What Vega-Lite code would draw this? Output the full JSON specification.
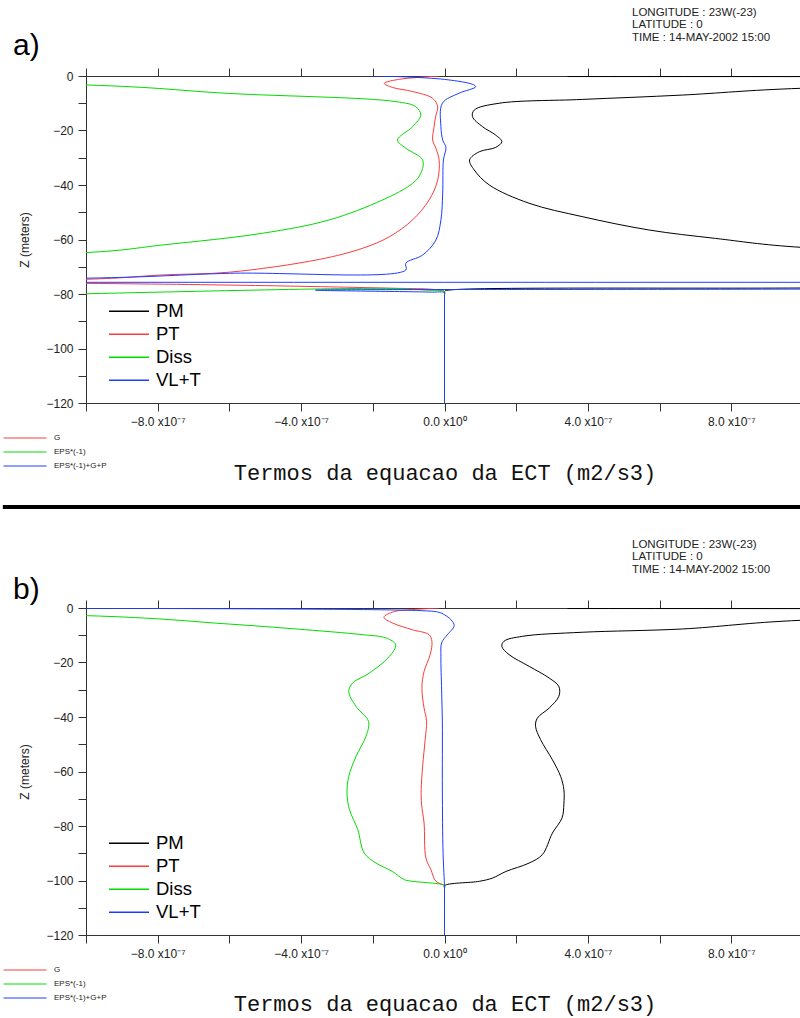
{
  "$schema": "https://vega.github.io/schema/vega-lite/v6.json",
  "padding": {"left": 0, "top": 6, "right": 0, "bottom": 6},
  "bounds": "flush",
  "spacing": 205,
  "config": {
    "view": {"stroke": null},
    "font": "Liberation Sans",
    "axis": {
      "domainColor": "#333333",
      "tickColor": "#333333",
      "labelColor": "#222222",
      "titleColor": "#222222",
      "labelFont": "Liberation Sans",
      "labelFontSize": 12,
      "tickSize": 8,
      "grid": false,
      "titleFontWeight": "normal",
      "labelOverlap": false,
      "labelBound": false,
      "labelFlush": false
    },
    "legend": {"padding": 0, "title": null}
  },
  "resolve": {
    "scale": {"color": "independent", "stroke": "independent"},
    "legend": {"color": "independent", "stroke": "independent"}
  },
  "datasets": {
    "a": [
      {"s": "PM", "x": 3.43e-7, "z": -0.2},
      {"s": "PM", "x": 3.0e-6, "z": -1.0},
      {"s": "PM", "x": 9.97e-7, "z": -4.5},
      {"s": "PM", "x": 6.63e-7, "z": -7.0},
      {"s": "PM", "x": 3.84e-7, "z": -8.6},
      {"s": "PM", "x": 1.52e-7, "z": -10.0},
      {"s": "PM", "x": 8.3e-8, "z": -12.5},
      {"s": "PM", "x": 7.8e-8, "z": -14.9},
      {"s": "PM", "x": 1.06e-7, "z": -18.6},
      {"s": "PM", "x": 1.43e-7, "z": -21.7},
      {"s": "PM", "x": 1.6e-7, "z": -24.1},
      {"s": "PM", "x": 1.43e-7, "z": -26.2},
      {"s": "PM", "x": 9.7e-8, "z": -27.8},
      {"s": "PM", "x": 7.0e-8, "z": -30.8},
      {"s": "PM", "x": 8.3e-8, "z": -34.5},
      {"s": "PM", "x": 1.25e-7, "z": -40.0},
      {"s": "PM", "x": 2.36e-7, "z": -46.7},
      {"s": "PM", "x": 3.84e-7, "z": -51.6},
      {"s": "PM", "x": 5.7e-7, "z": -56.5},
      {"s": "PM", "x": 7.56e-7, "z": -59.6},
      {"s": "PM", "x": 9.97e-7, "z": -62.9},
      {"s": "PM", "x": 3.0e-6, "z": -70.0},
      {"s": "PM", "x": 3.0e-6, "z": -77.0},
      {"s": "PM", "x": 9.97e-7, "z": -77.8},
      {"s": "PM", "x": 1.0e-8, "z": -78.6},
      {"s": "PM", "x": 0, "z": -79.0},
      {"s": "PM", "x": 0, "z": -80.0},
      {"s": "PM", "x": 0, "z": -90},
      {"s": "PM", "x": 0, "z": -100},
      {"s": "PM", "x": 0, "z": -110},
      {"s": "PM", "x": 0, "z": -120},

      {"s": "PT", "x": -1.5e-8, "z": 0},
      {"s": "PT", "x": -8.0e-8, "z": -0.6},
      {"s": "PT", "x": -1.26e-7, "z": -1.2},
      {"s": "PT", "x": -1.68e-7, "z": -2.7},
      {"s": "PT", "x": -1.45e-7, "z": -4.2},
      {"s": "PT", "x": -8.9e-8, "z": -5.7},
      {"s": "PT", "x": -3.3e-8, "z": -8.2},
      {"s": "PT", "x": -1.9e-8, "z": -11.3},
      {"s": "PT", "x": -2.5e-8, "z": -15.0},
      {"s": "PT", "x": -2.9e-8, "z": -18.6},
      {"s": "PT", "x": -3.3e-8, "z": -23.5},
      {"s": "PT", "x": -2.4e-8, "z": -26.5},
      {"s": "PT", "x": -1.5e-8, "z": -30.8},
      {"s": "PT", "x": -1.9e-8, "z": -38.2},
      {"s": "PT", "x": -4.3e-8, "z": -45.5},
      {"s": "PT", "x": -8.9e-8, "z": -52.8},
      {"s": "PT", "x": -1.54e-7, "z": -59.0},
      {"s": "PT", "x": -2.28e-7, "z": -63.2},
      {"s": "PT", "x": -3.49e-7, "z": -67.3},
      {"s": "PT", "x": -6.0e-7, "z": -72.0},
      {"s": "PT", "x": -7.86e-7, "z": -73.0},
      {"s": "PT", "x": -1.0e-6, "z": -74.6},
      {"s": "PT", "x": -6.0e-6, "z": -75.3},
      {"s": "PT", "x": -1.0e-6, "z": -76.1},
      {"s": "PT", "x": -1.36e-7, "z": -77.9},
      {"s": "PT", "x": -3.3e-8, "z": -78.3},
      {"s": "PT", "x": 0, "z": -79.0},
      {"s": "PT", "x": 0, "z": -80.0},
      {"s": "PT", "x": 0, "z": -90},
      {"s": "PT", "x": 0, "z": -100},
      {"s": "PT", "x": 0, "z": -110},
      {"s": "PT", "x": 0, "z": -120},

      {"s": "Diss", "x": -6.0e-6, "z": -2.5},
      {"s": "Diss", "x": -1.0e-6, "z": -3.3},
      {"s": "Diss", "x": -6.0e-7, "z": -6.4},
      {"s": "Diss", "x": -1.36e-7, "z": -9.4},
      {"s": "Diss", "x": -8.0e-8, "z": -11.3},
      {"s": "Diss", "x": -6.6e-8, "z": -14.3},
      {"s": "Diss", "x": -8.9e-8, "z": -18.6},
      {"s": "Diss", "x": -1.31e-7, "z": -23.5},
      {"s": "Diss", "x": -1.08e-7, "z": -26.5},
      {"s": "Diss", "x": -6.1e-8, "z": -30.8},
      {"s": "Diss", "x": -6.6e-8, "z": -35.7},
      {"s": "Diss", "x": -8.9e-8, "z": -39.4},
      {"s": "Diss", "x": -1.73e-7, "z": -45.5},
      {"s": "Diss", "x": -3.21e-7, "z": -52.8},
      {"s": "Diss", "x": -5.07e-7, "z": -57.7},
      {"s": "Diss", "x": -7.86e-7, "z": -62.0},
      {"s": "Diss", "x": -1.0e-6, "z": -64.8},
      {"s": "Diss", "x": -6.0e-6, "z": -70.0},
      {"s": "Diss", "x": -6.0e-6, "z": -77.5},
      {"s": "Diss", "x": -1.36e-7, "z": -78.0},
      {"s": "Diss", "x": -5.0e-8, "z": -78.6},
      {"s": "Diss", "x": 0, "z": -79.1},
      {"s": "Diss", "x": 0, "z": -80.0},
      {"s": "Diss", "x": 0, "z": -90},
      {"s": "Diss", "x": 0, "z": -100},
      {"s": "Diss", "x": 0, "z": -110},
      {"s": "Diss", "x": 0, "z": -120},

      {"s": "VL+T", "x": -6.0e-6, "z": -1.15},
      {"s": "VL+T", "x": 0, "z": -1.25},
      {"s": "VL+T", "x": 8.7e-8, "z": -3.9},
      {"s": "VL+T", "x": 4.1e-8, "z": -6.3},
      {"s": "VL+T", "x": -6e-9, "z": -10.0},
      {"s": "VL+T", "x": -1.0e-8, "z": -18.6},
      {"s": "VL+T", "x": -5e-9, "z": -23.5},
      {"s": "VL+T", "x": 4e-9, "z": -26.2},
      {"s": "VL+T", "x": -3e-9, "z": -30.8},
      {"s": "VL+T", "x": -5e-9, "z": -43.0},
      {"s": "VL+T", "x": -1.0e-8, "z": -52.8},
      {"s": "VL+T", "x": -2.4e-8, "z": -60.2},
      {"s": "VL+T", "x": -6.1e-8, "z": -65.7},
      {"s": "VL+T", "x": -1.08e-7, "z": -68.7},
      {"s": "VL+T", "x": -1.08e-7, "z": -71.2},
      {"s": "VL+T", "x": -6.0e-7, "z": -72.4},
      {"s": "VL+T", "x": -1.0e-6, "z": -74.2},
      {"s": "VL+T", "x": -6.0e-6, "z": -75.5},
      {"s": "VL+T", "x": 6.0e-6, "z": -76.1},
      {"s": "VL+T", "x": 1.0e-6, "z": -78.2},
      {"s": "VL+T", "x": -3.6e-7, "z": -78.6},
      {"s": "VL+T", "x": -4e-8, "z": -79.3},
      {"s": "VL+T", "x": 0, "z": -79.5},
      {"s": "VL+T", "x": 0, "z": -80.5},
      {"s": "VL+T", "x": 0, "z": -90},
      {"s": "VL+T", "x": 0, "z": -100},
      {"s": "VL+T", "x": 0, "z": -110},
      {"s": "VL+T", "x": 0, "z": -120}
    ],
    "b": [
      {"s": "PM", "x": 3.43e-7, "z": -0.2},
      {"s": "PM", "x": 3.0e-6, "z": -1.0},
      {"s": "PM", "x": 9.97e-7, "z": -4.5},
      {"s": "PM", "x": 6.63e-7, "z": -7.7},
      {"s": "PM", "x": 3.84e-7, "z": -8.9},
      {"s": "PM", "x": 2.17e-7, "z": -10.4},
      {"s": "PM", "x": 1.66e-7, "z": -12.2},
      {"s": "PM", "x": 1.6e-7, "z": -14.1},
      {"s": "PM", "x": 1.8e-7, "z": -17.1},
      {"s": "PM", "x": 2.36e-7, "z": -21.4},
      {"s": "PM", "x": 2.92e-7, "z": -25.7},
      {"s": "PM", "x": 3.19e-7, "z": -28.8},
      {"s": "PM", "x": 3.19e-7, "z": -32.4},
      {"s": "PM", "x": 2.92e-7, "z": -36.7},
      {"s": "PM", "x": 2.59e-7, "z": -40.4},
      {"s": "PM", "x": 2.54e-7, "z": -43.4},
      {"s": "PM", "x": 2.68e-7, "z": -48.3},
      {"s": "PM", "x": 3.01e-7, "z": -55.7},
      {"s": "PM", "x": 3.24e-7, "z": -61.8},
      {"s": "PM", "x": 3.33e-7, "z": -66.7},
      {"s": "PM", "x": 3.33e-7, "z": -72.0},
      {"s": "PM", "x": 3.28e-7, "z": -77.0},
      {"s": "PM", "x": 3.01e-7, "z": -82.6},
      {"s": "PM", "x": 2.73e-7, "z": -90.5},
      {"s": "PM", "x": 2.36e-7, "z": -93.6},
      {"s": "PM", "x": 1.71e-7, "z": -96.7},
      {"s": "PM", "x": 1.34e-7, "z": -99.1},
      {"s": "PM", "x": 9.7e-8, "z": -100.3},
      {"s": "PM", "x": 0, "z": -101.9},
      {"s": "PM", "x": 0, "z": -103},
      {"s": "PM", "x": 0, "z": -110},
      {"s": "PM", "x": 0, "z": -120},

      {"s": "PT", "x": -1.5e-8, "z": 0},
      {"s": "PT", "x": -9.0e-8, "z": -0.6},
      {"s": "PT", "x": -1.4e-7, "z": -1.3},
      {"s": "PT", "x": -1.69e-7, "z": -3.4},
      {"s": "PT", "x": -1.45e-7, "z": -5.5},
      {"s": "PT", "x": -8.9e-8, "z": -8.0},
      {"s": "PT", "x": -4.3e-8, "z": -9.8},
      {"s": "PT", "x": -3.5e-8, "z": -12.3},
      {"s": "PT", "x": -4.0e-8, "z": -17.1},
      {"s": "PT", "x": -5.7e-8, "z": -23.3},
      {"s": "PT", "x": -6.3e-8, "z": -29.4},
      {"s": "PT", "x": -5.7e-8, "z": -36.7},
      {"s": "PT", "x": -5.0e-8, "z": -41.6},
      {"s": "PT", "x": -5.4e-8, "z": -48.3},
      {"s": "PT", "x": -6.1e-8, "z": -58.1},
      {"s": "PT", "x": -6.5e-8, "z": -66.7},
      {"s": "PT", "x": -6.4e-8, "z": -72.0},
      {"s": "PT", "x": -5.7e-8, "z": -78.9},
      {"s": "PT", "x": -5.2e-8, "z": -91.7},
      {"s": "PT", "x": -3.8e-8, "z": -96.0},
      {"s": "PT", "x": -2.4e-8, "z": -100.3},
      {"s": "PT", "x": 0, "z": -101.9},
      {"s": "PT", "x": 0, "z": -103},
      {"s": "PT", "x": 0, "z": -110},
      {"s": "PT", "x": 0, "z": -120},

      {"s": "Diss", "x": -6.0e-6, "z": -2.0},
      {"s": "Diss", "x": -1.0e-6, "z": -2.8},
      {"s": "Diss", "x": -6.0e-7, "z": -5.9},
      {"s": "Diss", "x": -4.14e-7, "z": -7.7},
      {"s": "Diss", "x": -2.28e-7, "z": -9.8},
      {"s": "Diss", "x": -1.63e-7, "z": -11.0},
      {"s": "Diss", "x": -1.36e-7, "z": -13.5},
      {"s": "Diss", "x": -1.54e-7, "z": -17.8},
      {"s": "Diss", "x": -2.1e-7, "z": -23.9},
      {"s": "Diss", "x": -2.56e-7, "z": -27.5},
      {"s": "Diss", "x": -2.67e-7, "z": -30.6},
      {"s": "Diss", "x": -2.47e-7, "z": -36.1},
      {"s": "Diss", "x": -2.12e-7, "z": -41.6},
      {"s": "Diss", "x": -2.19e-7, "z": -47.1},
      {"s": "Diss", "x": -2.47e-7, "z": -54.5},
      {"s": "Diss", "x": -2.67e-7, "z": -61.8},
      {"s": "Diss", "x": -2.72e-7, "z": -67.9},
      {"s": "Diss", "x": -2.65e-7, "z": -74.0},
      {"s": "Diss", "x": -2.42e-7, "z": -81.3},
      {"s": "Diss", "x": -2.24e-7, "z": -89.9},
      {"s": "Diss", "x": -1.91e-7, "z": -93.6},
      {"s": "Diss", "x": -1.45e-7, "z": -96.7},
      {"s": "Diss", "x": -1.12e-7, "z": -99.7},
      {"s": "Diss", "x": -8.9e-8, "z": -100.3},
      {"s": "Diss", "x": 0, "z": -101.9},
      {"s": "Diss", "x": 0, "z": -103},
      {"s": "Diss", "x": 0, "z": -110},
      {"s": "Diss", "x": 0, "z": -120},

      {"s": "VL+T", "x": -6.0e-6, "z": -0.95},
      {"s": "VL+T", "x": -6.0e-8, "z": -1.0},
      {"s": "VL+T", "x": -1.5e-8, "z": -1.6},
      {"s": "VL+T", "x": 0, "z": -2.5},
      {"s": "VL+T", "x": 1.8e-8, "z": -4.3},
      {"s": "VL+T", "x": 2.7e-8, "z": -6.5},
      {"s": "VL+T", "x": 8e-9, "z": -9.8},
      {"s": "VL+T", "x": -8e-9, "z": -12.8},
      {"s": "VL+T", "x": -1.0e-8, "z": -17.8},
      {"s": "VL+T", "x": -8e-9, "z": -30.0},
      {"s": "VL+T", "x": -6e-9, "z": -42.2},
      {"s": "VL+T", "x": -6e-9, "z": -66.4},
      {"s": "VL+T", "x": -4e-9, "z": -90.0},
      {"s": "VL+T", "x": 0, "z": -101.9},
      {"s": "VL+T", "x": 0, "z": -103},
      {"s": "VL+T", "x": 0, "z": -110},
      {"s": "VL+T", "x": 0, "z": -120}
    ]
  },
  "vconcat": [
    {
      "width": 717,
      "height": 327,
      "title": {
        "text": ["LONGITUDE : 23W(-23)", "LATITUDE : 0", "TIME : 14-MAY-2002 15:00"],
        "anchor": "end", "align": "left", "frame": "group", "dx": -171,
        "offset": -23, "baseline": "bottom",
        "fontSize": 11.5, "fontWeight": "normal", "lineHeight": 12.5, "color": "#222222", "font": "Liberation Sans"
      },
      "resolve": {"axis": {"x": "independent", "y": "independent"}},
      "layer": [
        {
          "data": {"name": "a"},
          "mark": {"type": "line", "clip": true, "strokeWidth": 1, "interpolate": "catmull-rom"},
          "encoding": {
            "x": {
              "field": "x", "type": "quantitative",
              "scale": {"domain": [-1e-6, 1e-6], "nice": false, "zero": false},
              "axis": {
                "orient": "bottom",
                "values": [-1e-6, -8e-7, -6e-7, -4e-7, -2e-7, 0, 2e-7, 4e-7, 6e-7, 8e-7, 1e-6],
                "labelExpr": "(abs(round(datum.value*1e7)) % 4 == 0 && abs(round(datum.value*1e7)) < 10) ? (datum.value == 0 ? '0.0 x10⁰' : format(datum.value*1e7, '.1f') + ' x10⁻⁷') : ''",
                "labelPadding": 5,
                "title": "Termos da equacao da ECT (m2/s3)",
                "titleFont": "Liberation Mono", "titleFontSize": 22, "titlePadding": 35, "titleColor": "#111111"
              }
            },
            "y": {
              "field": "z", "type": "quantitative",
              "scale": {"domain": [-120, 0], "nice": false, "zero": false},
              "axis": {
                "orient": "left",
                "values": [-120, -110, -100, -90, -80, -70, -60, -50, -40, -30, -20, -10, 0],
                "labelExpr": "datum.value % 20 == 0 ? datum.label : ''",
                "labelPadding": 5,
                "title": "Z (meters)", "titleFontSize": 12, "titlePadding": 14
              }
            },
            "color": {
              "field": "s", "type": "nominal",
              "scale": {"domain": ["PM", "PT", "Diss", "VL+T"], "range": ["#000000", "#fa3c3c", "#00dc00", "#1e3cff"]},
              "legend": {
                "orient": "none", "legendX": 22, "legendY": 224,
                "symbolType": "stroke", "symbolSize": 1600, "symbolStrokeWidth": 1.5,
                "labelFontSize": 18.5, "labelFont": "Liberation Sans", "labelColor": "#000000",
                "labelOffset": 6, "clipHeight": 22.3, "rowPadding": 0, "labelBaseline": "middle"
              }
            },
            "order": {"field": "z", "sort": "descending"}
          }
        },
        {
          "data": {"values": [{"s": "G"}, {"s": "EPS*(-1)"}, {"s": "EPS*(-1)+G+P"}]},
          "mark": {"type": "line", "clip": true},
          "encoding": {
            "x": {
              "field": "x", "type": "quantitative",
              "axis": {
                "orient": "top",
                "values": [-1e-6, -8e-7, -6e-7, -4e-7, -2e-7, 0, 2e-7, 4e-7, 6e-7, 8e-7, 1e-6],
                "labels": false, "title": null
              }
            },
            "y": {"field": "z", "type": "quantitative", "axis": null},
            "stroke": {
              "field": "s", "type": "nominal",
              "scale": {"domain": ["G", "EPS*(-1)", "EPS*(-1)+G+P"], "range": ["#fa3c3c", "#00dc00", "#1e3cff"]},
              "legend": {
                "orient": "none", "legendX": -83, "legendY": 355,
                "symbolType": "stroke", "symbolSize": 1849, "symbolStrokeWidth": 1,
                "labelFontSize": 8, "labelFont": "Liberation Sans", "labelColor": "#222222",
                "labelOffset": 7, "clipHeight": 14, "rowPadding": 0, "labelBaseline": "middle"
              }
            }
          }
        },
        {
          "data": {"values": [{"label": "a)"}]},
          "mark": {"type": "text", "align": "left", "baseline": "middle", "fontSize": 30, "font": "Liberation Sans", "color": "#000000"},
          "encoding": {
            "x": {"datum": -1.2036e-6, "type": "quantitative", "axis": null},
            "y": {"datum": 11, "type": "quantitative", "axis": null},
            "text": {"field": "label"}
          }
        },
        {
          "data": {"values": [{"label": "separator"}]},
          "mark": {"type": "rule", "color": "#000000", "strokeWidth": 4},
          "encoding": {
            "x": {"datum": -1.232e-6, "type": "quantitative", "axis": null},
            "x2": {"datum": 1e-6},
            "y": {"datum": -158.2, "type": "quantitative", "axis": null}
          }
        }
      ]
    },
    {
      "width": 717,
      "height": 327,
      "title": {
        "text": ["LONGITUDE : 23W(-23)", "LATITUDE : 0", "TIME : 14-MAY-2002 15:00"],
        "anchor": "end", "align": "left", "frame": "group", "dx": -171,
        "offset": -11, "baseline": "bottom",
        "fontSize": 11.5, "fontWeight": "normal", "lineHeight": 12.5, "color": "#222222", "font": "Liberation Sans"
      },
      "resolve": {"axis": {"x": "independent", "y": "independent"}},
      "layer": [
        {
          "data": {"name": "b"},
          "mark": {"type": "line", "clip": true, "strokeWidth": 1, "interpolate": "catmull-rom"},
          "encoding": {
            "x": {
              "field": "x", "type": "quantitative",
              "scale": {"domain": [-1e-6, 1e-6], "nice": false, "zero": false},
              "axis": {
                "orient": "bottom",
                "values": [-1e-6, -8e-7, -6e-7, -4e-7, -2e-7, 0, 2e-7, 4e-7, 6e-7, 8e-7, 1e-6],
                "labelExpr": "(abs(round(datum.value*1e7)) % 4 == 0 && abs(round(datum.value*1e7)) < 10) ? (datum.value == 0 ? '0.0 x10⁰' : format(datum.value*1e7, '.1f') + ' x10⁻⁷') : ''",
                "labelPadding": 5,
                "title": "Termos da equacao da ECT (m2/s3)",
                "titleFont": "Liberation Mono", "titleFontSize": 22, "titlePadding": 34, "titleColor": "#111111"
              }
            },
            "y": {
              "field": "z", "type": "quantitative",
              "scale": {"domain": [-120, 0], "nice": false, "zero": false},
              "axis": {
                "orient": "left",
                "values": [-120, -110, -100, -90, -80, -70, -60, -50, -40, -30, -20, -10, 0],
                "labelExpr": "datum.value % 20 == 0 ? datum.label : ''",
                "labelPadding": 5,
                "title": "Z (meters)", "titleFontSize": 12, "titlePadding": 14
              }
            },
            "color": {
              "field": "s", "type": "nominal",
              "scale": {"domain": ["PM", "PT", "Diss", "VL+T"], "range": ["#000000", "#fa3c3c", "#00dc00", "#1e3cff"]},
              "legend": {
                "orient": "none", "legendX": 22, "legendY": 224,
                "symbolType": "stroke", "symbolSize": 1600, "symbolStrokeWidth": 1.5,
                "labelFontSize": 18.5, "labelFont": "Liberation Sans", "labelColor": "#000000",
                "labelOffset": 6, "clipHeight": 22.3, "rowPadding": 0, "labelBaseline": "middle"
              }
            },
            "order": {"field": "z", "sort": "descending"}
          }
        },
        {
          "data": {"values": [{"s": "G"}, {"s": "EPS*(-1)"}, {"s": "EPS*(-1)+G+P"}]},
          "mark": {"type": "line", "clip": true},
          "encoding": {
            "x": {
              "field": "x", "type": "quantitative",
              "axis": {
                "orient": "top",
                "values": [-1e-6, -8e-7, -6e-7, -4e-7, -2e-7, 0, 2e-7, 4e-7, 6e-7, 8e-7, 1e-6],
                "labels": false, "title": null
              }
            },
            "y": {"field": "z", "type": "quantitative", "axis": null},
            "stroke": {
              "field": "s", "type": "nominal",
              "scale": {"domain": ["G", "EPS*(-1)", "EPS*(-1)+G+P"], "range": ["#fa3c3c", "#00dc00", "#1e3cff"]},
              "legend": {
                "orient": "none", "legendX": -83, "legendY": 355,
                "symbolType": "stroke", "symbolSize": 1849, "symbolStrokeWidth": 1,
                "labelFontSize": 8, "labelFont": "Liberation Sans", "labelColor": "#222222",
                "labelOffset": 7, "clipHeight": 14, "rowPadding": 0, "labelBaseline": "middle"
              }
            }
          }
        },
        {
          "data": {"values": [{"label": "b)"}]},
          "mark": {"type": "text", "align": "left", "baseline": "middle", "fontSize": 30, "font": "Liberation Sans", "color": "#000000"},
          "encoding": {
            "x": {"datum": -1.2036e-6, "type": "quantitative", "axis": null},
            "y": {"datum": 6.6, "type": "quantitative", "axis": null},
            "text": {"field": "label"}
          }
        }
      ]
    }
  ]
}
